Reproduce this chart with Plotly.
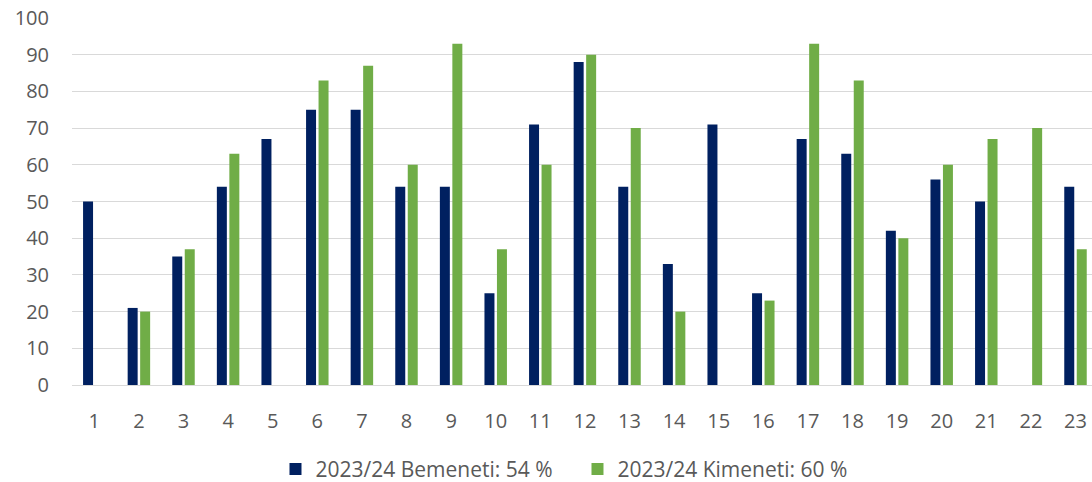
import plotly.graph_objects as go

categories = [str(i) for i in range(1, 24)]
bemeneti = [50, 21, 35, 54, 67, 75, 75, 54, 54, 25, 71, 88, 54, 33, 71, 25, 67, 63, 42, 56, 50, None, 54]
kimeneti = [None, 20, 37, 63, None, 83, 87, 60, 93, 37, 60, 90, 70, 20, None, 23, 93, 83, 40, 60, 67, 70, 37]
name_be = "2023/24 Bemeneti: 54 %"
name_ki = "2023/24 Kimeneti: 60 %"
y_ticks = list(range(0, 101, 10))

fig = go.Figure()
fig.add_trace(go.Bar(x=categories, y=bemeneti, name=name_be,
                     marker=dict(color="#002060", line=dict(width=0))))
fig.add_trace(go.Bar(x=categories, y=kimeneti, name=name_ki,
                     marker=dict(color="#70AD47", line=dict(width=0))))

font_family = "Open Sans, Noto Sans, Liberation Sans, sans-serif"
fig.update_layout(
    template="none",
    width=1092, height=482,
    margin=dict(l=72, r=0, t=18, b=97, autoexpand=False),
    paper_bgcolor="white", plot_bgcolor="white",
    barmode="group", bargap=0.44, bargroupgap=0.2,
    font=dict(family=font_family, color="#595959", size=20),
    showlegend=True,
    legend=dict(orientation="h", x=0.1995, xref="paper", xanchor="left",
                y=-0.23, yanchor="middle", font=dict(size=21, color="#595959"),
                itemwidth=30, tracegroupgap=0, bgcolor="rgba(0,0,0,0)",
                entrywidth=257, entrywidthmode="pixels"),
)
fig.update_xaxes(type="category", range=[-0.5, 22.37], showgrid=False,
                 showline=False, zeroline=False, ticks="", automargin=False,
                 ticklabeloverflow="allow",
                 ticklabelstandoff=22, tickfont=dict(size=20, color="#595959"))
fig.update_yaxes(range=[0, 100], tickvals=y_ticks, showgrid=True,
                 gridcolor="#D9D9D9", gridwidth=1, zeroline=True,
                 zerolinecolor="#D9D9D9", zerolinewidth=1, showline=False,
                 ticks="", ticklabelstandoff=22, automargin=False,
                 ticklabeloverflow="allow",
                 tickfont=dict(size=20, color="#595959"))

fig.write_html("out.html", config={"displayModeBar": False},
               post_script="document.body.style.margin='0px';")
